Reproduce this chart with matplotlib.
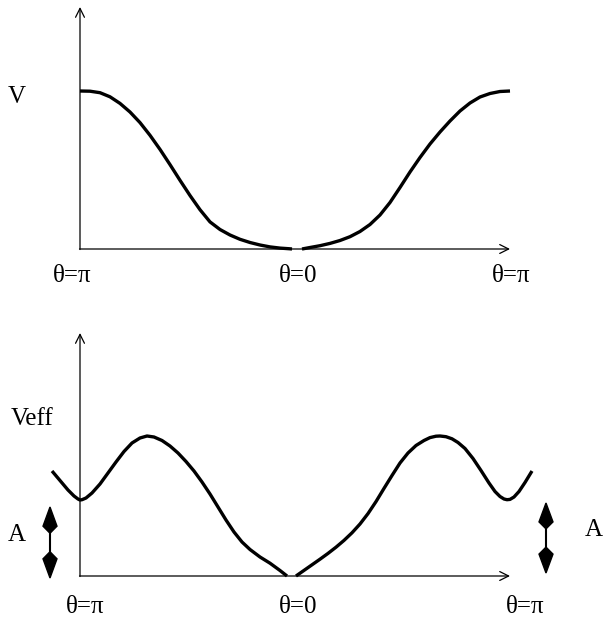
import matplotlib.pyplot as plt
from matplotlib.patches import Polygon

plt.rcParams['font.family'] = ['Liberation Serif', 'DejaVu Serif']

# top panel: V(theta), x measured from the V axis, y = height above the theta axis
v_left_x = [0, 10, 20, 30, 40, 50, 60, 70, 80, 90, 100, 110, 120, 130, 140, 150, 160,
            170, 180, 190, 200, 210, 212]
v_left_y = [158, 157.8, 156.3, 152.2, 145.6, 137.0, 126.4, 113.7, 99.6, 84.4, 68.7, 53.5,
            39.3, 27.1, 19.5, 14.0, 9.7, 6.5, 4.0, 2.1, 0.9, 0.2, 0]
v_right_x = [222, 230, 240, 250, 260, 270, 280, 290, 300, 310, 320, 330, 340, 350, 360,
             370, 380, 390, 400, 410, 420, 430]
v_right_y = [0, 1.5, 3.3, 5.6, 8.5, 12.3, 17.5, 24.5, 34, 46.5, 61.5, 77, 91.5, 105, 117,
             128, 138, 146, 152, 155.5, 157.5, 158]

# bottom panel: Veff(theta)
veff_left_x = [-28, -20, -12, -6, -2, 0, 2, 6, 12, 20, 28, 36, 44, 52, 60, 67, 74, 82, 90,
               98, 106, 114, 122, 130, 138, 146, 154, 162, 170, 180, 190, 200, 207]
veff_left_y = [105, 95.5, 86, 80, 77, 76, 76.3, 78, 83, 92, 103, 114, 124.5, 133, 138, 140,
               139, 135.5, 130, 123, 114.5, 105, 94, 82, 69, 56, 44, 34, 26.5, 19, 12.8,
               5.5, 0]
veff_right_x = [216, 224, 232, 240, 248, 256, 264, 272, 280, 288, 296, 304, 312, 320, 328,
                336, 344, 350, 356, 360, 366, 372, 378, 385, 393, 401, 409, 415, 420, 424,
                427, 430, 434, 439, 445, 452]
veff_right_y = [0, 5.6, 11.2, 16.8, 22.6, 28.8, 35.6, 43.2, 52.0, 62.4, 74.4, 87.6, 100.5,
                113, 123, 130.5, 135.5, 138.4, 139.8, 140, 139.3, 137.2, 133.5, 127.5, 117.5,
                105.5, 93, 84.5, 79.5, 77, 76.3, 76.6, 79, 84.5, 93.5, 105]

theta_labels = ['θ=π', 'θ=0', 'θ=π']
top_label_x = [-8, 218, 431]
bot_label_x = [5, 218, 445]

fig = plt.figure(figsize=(6.07, 6.19), dpi=100)
ax1 = fig.add_axes([0, 319 / 619, 1, 300 / 619])
ax2 = fig.add_axes([0, 0, 1, 319 / 619])
ax1.set_xlim(-80, 527)
ax1.set_ylim(-51, 249)
ax2.set_xlim(-80, 527)
ax2.set_ylim(-43, 276)

for ax, ytop in [(ax1, 242), (ax2, 243)]:
    ax.axis('off')
    ax.annotate('', xy=(0, ytop), xytext=(0, -0.5),
                arrowprops=dict(arrowstyle='->', lw=0.9, color='black', mutation_scale=16,
                                shrinkA=0, shrinkB=0))
    ax.annotate('', xy=(430, 0), xytext=(-0.5, 0),
                arrowprops=dict(arrowstyle='->', lw=0.9, color='black', mutation_scale=16,
                                shrinkA=0, shrinkB=0))

line = dict(color='black', lw=2.4, solid_capstyle='butt', solid_joinstyle='round')
ax1.plot(v_left_x, v_left_y, **line)
ax1.plot(v_right_x, v_right_y, **line)
ax2.plot(veff_left_x, veff_left_y, **line)
ax2.plot(veff_right_x, veff_right_y, **line)

txt = dict(fontsize=18, ha='center', va='center')
ax1.text(-63, 152, 'V', **txt)
for lx, lab in zip(top_label_x, theta_labels):
    ax1.text(lx, -27, lab, **txt)
ax2.text(-48, 157, 'Veff', **txt)
ax2.text(-63, 41, 'A', **txt)
ax2.text(514, 46, 'A', **txt)
for lx, lab in zip(bot_label_x, theta_labels):
    ax2.text(lx, -31, lab, **txt)


# amplitude markers: two kites joined by a stem
def amp_marker(ax, x, top, bottom):
    h = top - bottom
    ax.plot([x, x], [bottom + 0.25 * h, top - 0.25 * h], color='black', lw=1.5)
    up = [(x, top), (x + 7, top - 0.27 * h), (x, top - 0.37 * h), (x - 7, top - 0.27 * h)]
    dn = [(x, bottom), (x + 7, bottom + 0.27 * h), (x, bottom + 0.37 * h), (x - 7, bottom + 0.27 * h)]
    ax.add_patch(Polygon(up, closed=True, color='black'))
    ax.add_patch(Polygon(dn, closed=True, color='black'))


amp_marker(ax2, -30, 69, -2)
amp_marker(ax2, 466, 73, 3)

fig.savefig('out.png', dpi=100)
